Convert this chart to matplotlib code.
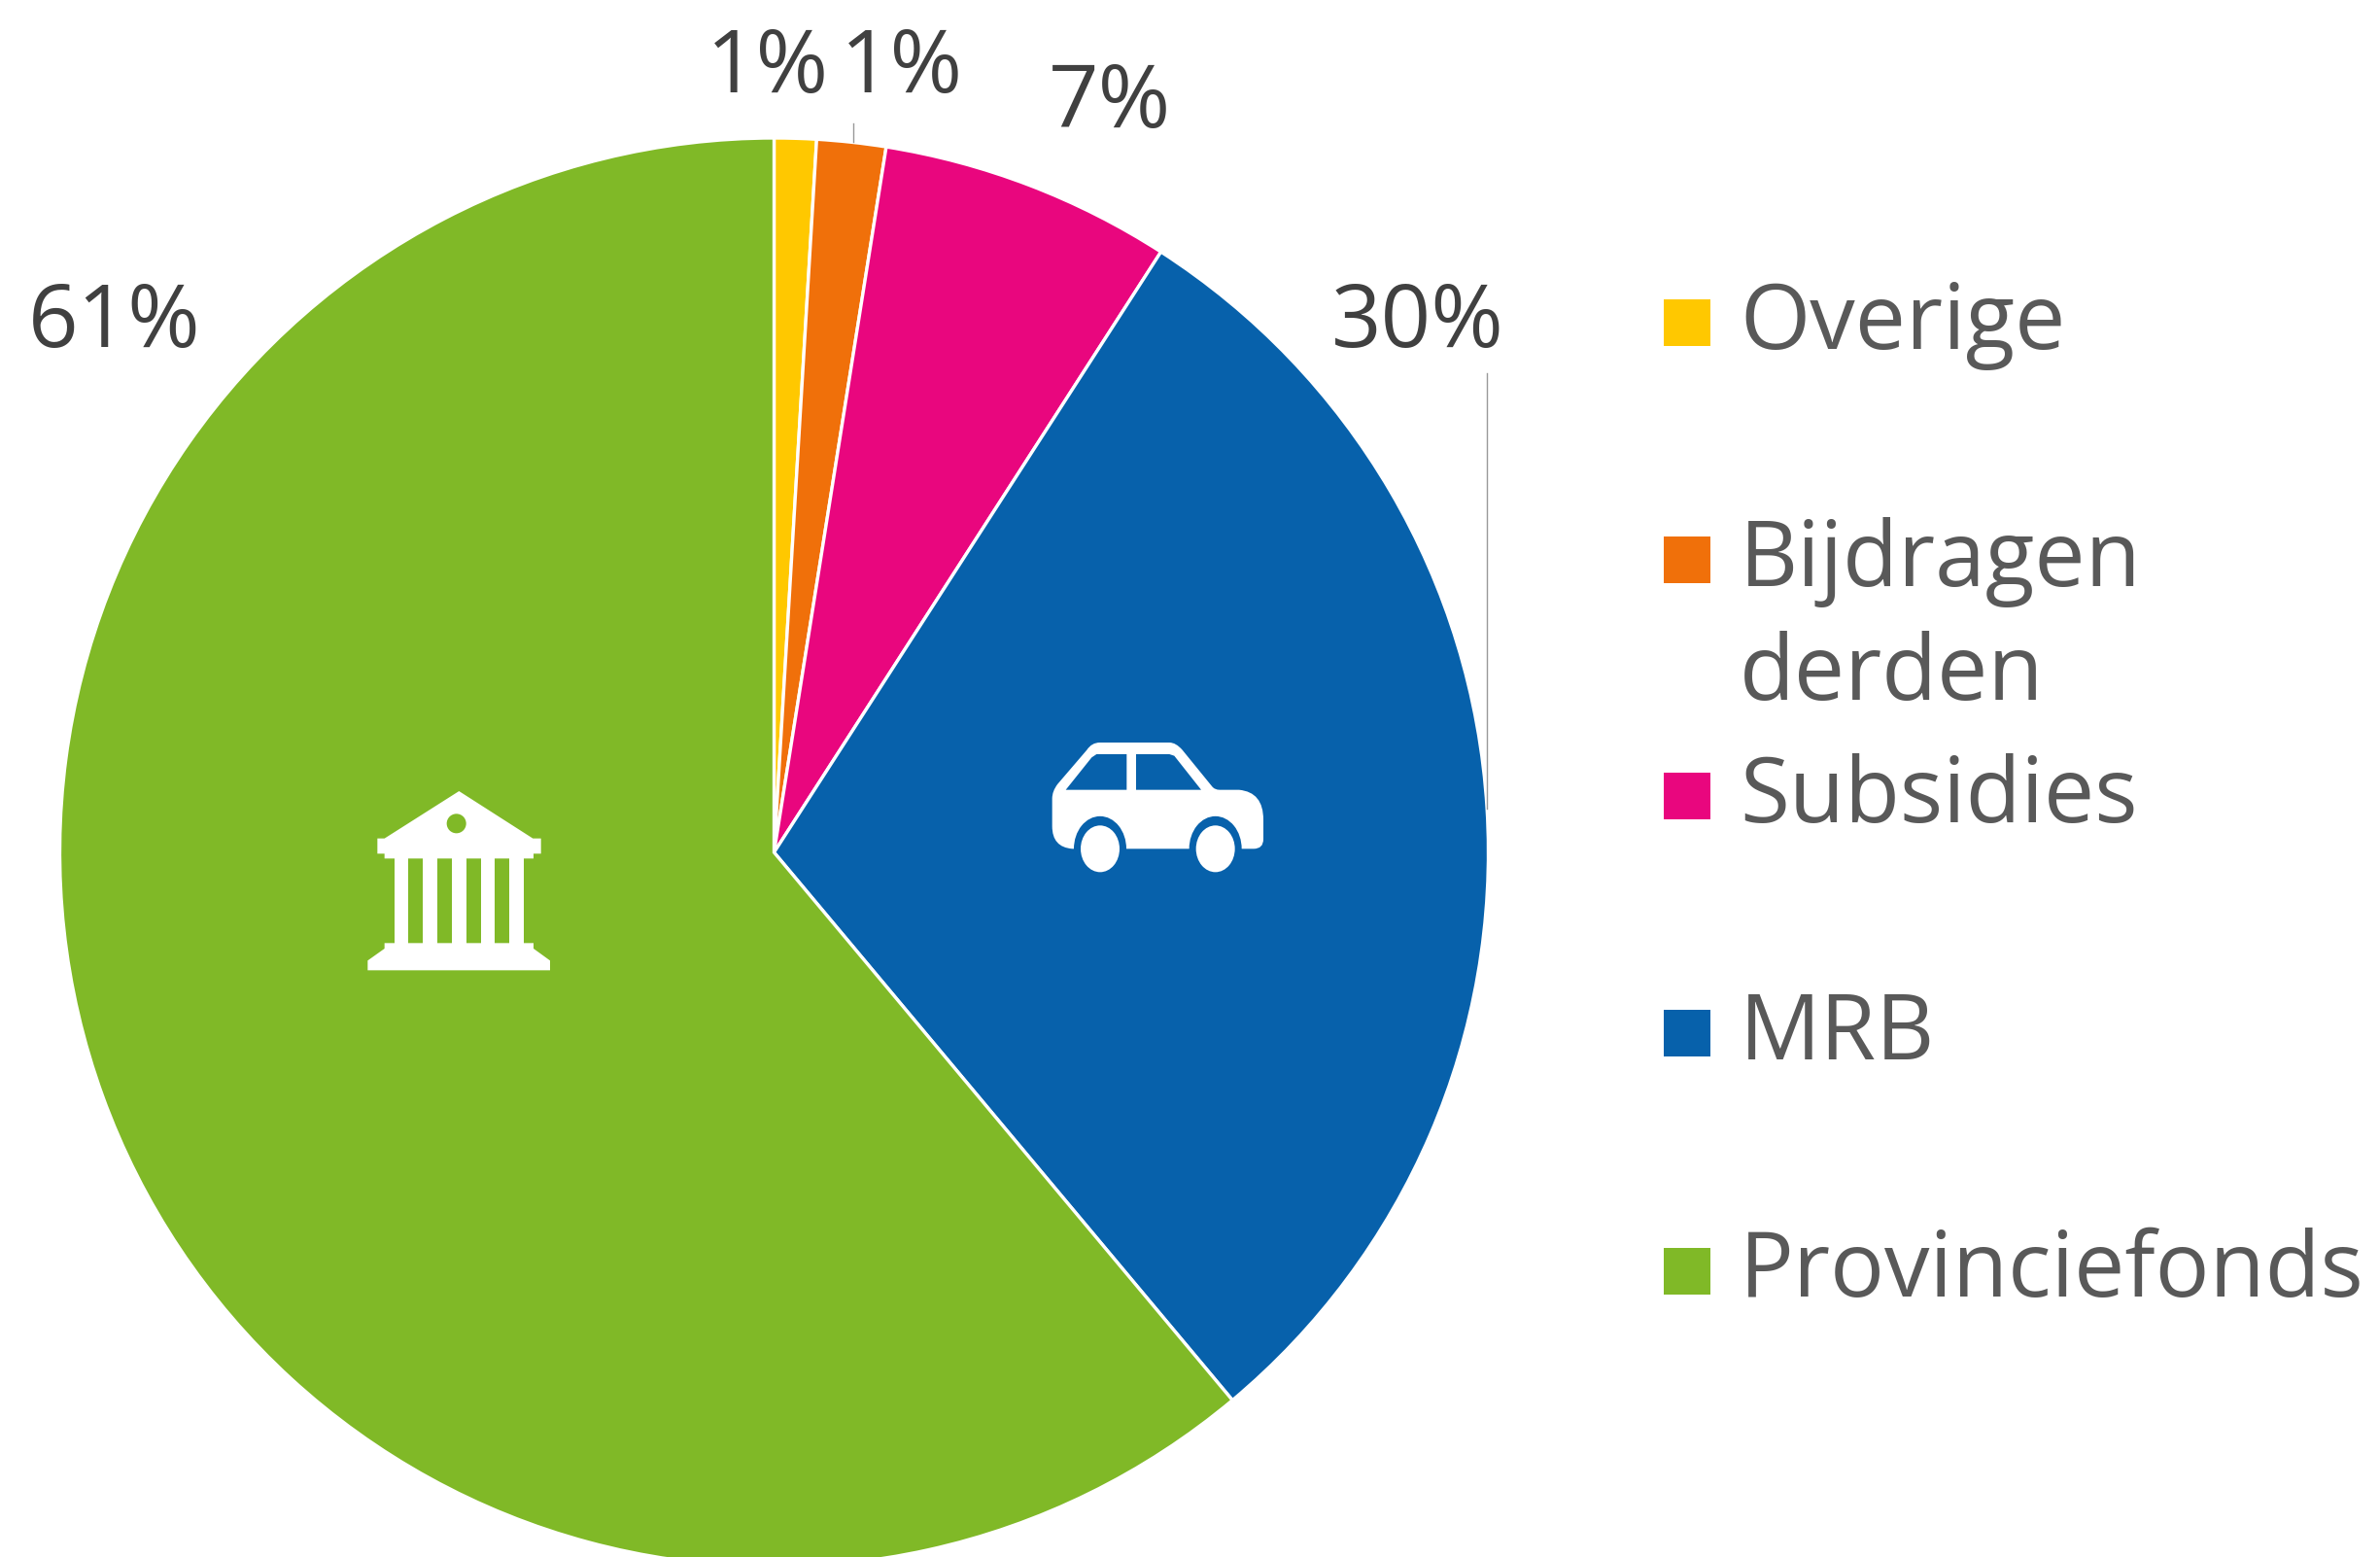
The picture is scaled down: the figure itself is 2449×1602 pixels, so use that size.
import matplotlib

matplotlib.use("Agg")
import matplotlib.pyplot as plt
from matplotlib.patches import Circle, Ellipse, PathPatch, Polygon, Rectangle
from matplotlib.path import Path

plt.rcParams["font.family"] = ["Open Sans", "DejaVu Sans"]

# Slices run clockwise from the top of the pie
categories = ["Overige", "Bijdragen\nderden", "Subsidies", "MRB", "Provinciefonds"]
values = [0.95, 1.56, 6.6, 29.8, 61.09]
value_labels = ["1%", "1%", "7%", "30%", "61%"]
colors = ["#FFC800", "#F0700A", "#E9067E", "#0761AB", "#80B927"]

WIDTH, HEIGHT = 2449, 1602
CENTER = (796.5, 877)
RADIUS = 735
TEXT_DARK = "#404040"
TEXT_LEGEND = "#595959"
LINE_STEP = 117

label_pos = [(790, 72), (928, 72), (1142, 108), (1459, 334), (118, 334)]
legend_top = [308, 552, 795, 1039, 1284]
legend_baseline = [359, 603, 846, 1090, 1334]


def zoom_to_px(points, origin):
    return [(origin[0] + x / 3, origin[1] + y / 3) for x, y in points]


def draw_car(ax):
    origin = (1040, 740)
    blue = colors[3]
    verts = [
        (128, 245), (128, 222), (145, 200), (235, 95), (250, 72), (275, 72), (490, 72),
        (510, 72), (530, 95), (622, 208), (630, 218), (645, 218), (705, 218), (780, 225),
        (780, 310), (780, 370), (780, 400), (750, 400), (190, 400), (128, 395), (128, 330),
        (128, 245),
    ]
    codes = [
        Path.MOVETO, Path.CURVE3, Path.CURVE3, Path.LINETO, Path.CURVE3, Path.CURVE3, Path.LINETO,
        Path.CURVE3, Path.CURVE3, Path.LINETO, Path.CURVE3, Path.CURVE3, Path.LINETO, Path.CURVE3,
        Path.CURVE3, Path.LINETO, Path.CURVE3, Path.CURVE3, Path.LINETO, Path.CURVE3, Path.CURVE3,
        Path.CLOSEPOLY,
    ]
    ax.add_patch(PathPatch(Path(zoom_to_px(verts, origin), codes), fc="white", ec="none"))
    windows = [
        [(170, 218), (250, 118), (265, 108), (358, 108), (358, 218)],
        [(387, 108), (490, 108), (505, 113), (588, 218), (387, 218)],
    ]
    for window in windows:
        ax.add_patch(Polygon(zoom_to_px(window, origin), fc=blue, ec="none"))
    for x in (276, 632):
        (cx, cy), = zoom_to_px([(x, 400)], origin)
        ax.add_patch(Ellipse((cx, cy), 54, 67, fc=blue, ec="none"))
        ax.add_patch(Ellipse((cx, cy), 40, 48, fc="white", ec="none"))


def draw_temple(ax):
    origin = (360, 790)
    green = colors[4]
    roof = [
        (337, 72), (565, 218), (590, 218), (590, 265), (567, 265), (567, 280),
        (107, 280), (107, 265), (85, 265), (85, 218), (107, 218),
    ]
    base = [
        (107, 541), (567, 541), (567, 558), (618, 595), (618, 625),
        (55, 625), (55, 595), (107, 558),
    ]
    ax.add_patch(Polygon(zoom_to_px(roof, origin), fc="white", ec="none"))
    ax.add_patch(Polygon(zoom_to_px(base, origin), fc="white", ec="none"))
    for left, right in [(137, 181), (226, 270), (315, 359), (404, 448), (493, 537)]:
        column = [(left, 278), (right, 278), (right, 543), (left, 543)]
        ax.add_patch(Polygon(zoom_to_px(column, origin), fc="white", ec="none"))
    (cx, cy), = zoom_to_px([(329, 172)], origin)
    ax.add_patch(Circle((cx, cy), 10, fc=green, ec="none"))


def main() -> None:
    fig = plt.figure(figsize=(WIDTH / 100, HEIGHT / 100), dpi=100)
    ax = fig.add_axes([0, 0, 1, 1])

    # y axis is inverted below, so counterclock here reads clockwise in the image
    ax.pie(
        values,
        colors=colors,
        center=CENTER,
        radius=RADIUS,
        startangle=-90,
        counterclock=True,
        wedgeprops={"edgecolor": "white", "linewidth": 2.4},
    )
    ax.set_xlim(0, WIDTH)
    ax.set_ylim(HEIGHT, 0)
    ax.set_aspect("equal")
    ax.axis("off")

    # Leader lines
    ax.plot([878, 878], [127, 146], color="#999999", lw=1.0)
    ax.plot([1530, 1530], [384, 832], color="#999999", lw=1.0)

    for label, (x, y) in zip(value_labels, label_pos):
        ax.text(x, y, label, fontsize=65, color=TEXT_DARK, ha="center", va="center")

    for name, color, top, base in zip(categories, colors, legend_top, legend_baseline):
        ax.add_patch(Rectangle((1712, top), 48, 48, fc=color, ec="none"))
        # Wrapped names get one text per line so the first baseline stays put
        for i, line in enumerate(name.split("\n")):
            ax.text(
                1790,
                base + i * LINE_STEP,
                line,
                fontsize=67,
                color=TEXT_LEGEND,
                ha="left",
                va="baseline",
            )

    draw_car(ax)
    draw_temple(ax)

    fig.savefig("out.png", dpi=100, facecolor="white")


if __name__ == "__main__":
    main()
